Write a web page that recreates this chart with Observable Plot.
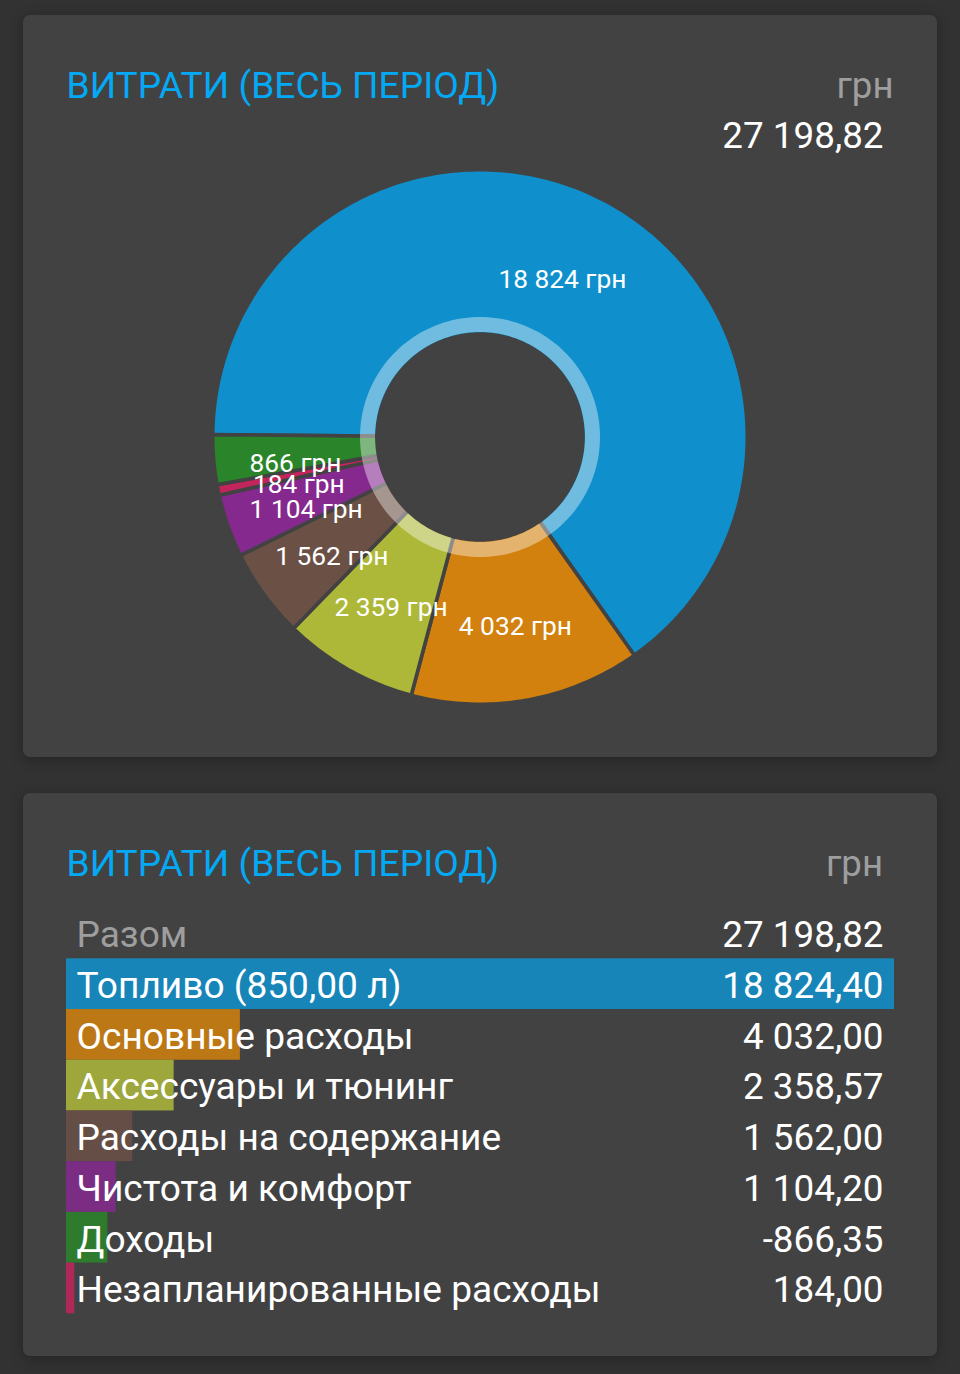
<!DOCTYPE html>
<html lang="uk">
<head>
<meta charset="utf-8">
<script src="https://cdn.jsdelivr.net/npm/d3@7"></script>
<script src="https://cdn.jsdelivr.net/npm/@observablehq/plot@0.6"></script>
<style>
  html, body { margin: 0; padding: 0; background: #323232; width: 960px; height: 1374px; overflow: hidden; font-family: Roboto, sans-serif; }
  .card { position: absolute; left: 23px; width: 914px; background: #424242; border-radius: 7px; box-shadow: 0 3px 14px rgba(0,0,0,.28); }
  .card svg { position: absolute; left: 0; top: 0; }
  .t { position: absolute; white-space: nowrap; line-height: 1; z-index: 2; }
  .title { left: 43.5px; color: #03a9f4; font-size: 37.15px; }
  .unit { color: #9e9e9e; font-size: 36.6px; }
  .total { color: #fff; font-size: 36.8px; }
</style>
</head>
<body>
<div class="card" id="c1" style="top:15px;height:742px">
  <div class="t title" style="top:52px">ВИТРАТИ (ВЕСЬ ПЕРІОД)</div>
  <div class="t unit" style="right:43.5px;top:53px">грн</div>
  <div class="t total" id="sum" style="right:53.5px;top:103px"></div>
</div>
<div class="card" id="c2" style="top:793px;height:563px">
  <div class="t title" style="top:52px">ВИТРАТИ (ВЕСЬ ПЕРІОД)</div>
  <div class="t unit" style="right:54px;top:53px">грн</div>
</div>
<script>
// ---- data ----
const categories = ["Топливо (850,00 л)", "Основные расходы", "Аксессуары и тюнинг", "Расходы на содержание", "Чистота и комфорт", "Доходы", "Незапланированные расходы"];
const amounts = [18824.40, 4032.00, 2358.57, 1562.00, 1104.20, -866.35, 184.00];
const colors = ["#0f90cc", "#d2810e", "#adb839", "#6b5046", "#85298f", "#2a852a", "#c2255c"];
const sliceOrder = [0, 1, 2, 3, 4, 6, 5];
const totalLabel = "Разом";
const total = 27198.82;

// ---- formatting ----
const locale = d3.formatLocale({decimal: ",", thousands: " ", grouping: [3], currency: ["", ""], minus: "-"});
const money = locale.format(",.2f");
const whole = locale.format(",.0f");
document.getElementById("sum").textContent = money(total);

// ---- donut ----
const FONT = "Roboto, sans-serif";
const R = 265.5;
const startAngle = 270.5;
const sum = d3.sum(amounts, Math.abs);
const rad = d => d * Math.PI / 180;
const px = (r, a) => r / R * Math.sin(rad(a));
const py = (r, a) => r / R * Math.cos(rad(a));

let cursor = startAngle;
const sliceRows = [], labelRows = [];
for (const i of sliceOrder) {
  const span = Math.abs(amounts[i]) / sum * 360;
  const n = Math.max(2, Math.ceil(span));
  for (let k = 0; k <= n; ++k) {
    const a = cursor + span * k / n;
    sliceRows.push({cat: categories[i], x1: px(103, a), y1: py(103, a), x2: px(R + 1.8, a), y2: py(R + 1.8, a)});
  }
  const mid = cursor + span / 2 - 1;
  labelRows.push({x: px(185, mid), y: py(185, mid), text: whole(Math.abs(amounts[i])) + " грн"});
  cursor += span;
}
const ringRows = d3.range(0, 361, 2).map(a => ({x1: px(105, a), y1: py(105, a), x2: px(120, a), y2: py(120, a)}));

const donut = Plot.plot({
  width: 914, height: 742,
  margin: 0,
  style: {background: "transparent", fontFamily: FONT},
  x: {domain: [-457 / R, 457 / R], range: [0, 914], axis: null},
  y: {domain: [-320 / R, 422 / R], range: [742, 0], axis: null},
  color: {domain: categories, range: colors},
  marks: [
    Plot.area(sliceRows, {x1: "x1", y1: "y1", x2: "x2", y2: "y2", fill: "cat", stroke: "#424242", strokeWidth: 3.6, curve: "linear"}),
    Plot.area(ringRows, {x1: "x1", y1: "y1", x2: "x2", y2: "y2", fill: "#fff", fillOpacity: 0.4, curve: "linear"}),
    Plot.text(labelRows, {x: "x", y: "y", text: "text", dx: -1, dy: 7.5, fill: "#fff", fontSize: 26.3, fontFamily: FONT})
  ]
});
document.getElementById("c1").appendChild(donut);

// ---- table ----
const rows = categories.map((name, i) => ({
  name, amount: amounts[i], color: colors[i],
  share: Math.round(Math.abs(amounts[i]) / d3.max(amounts) * 100)
}));
const head = [{name: totalLabel, amount: total}];
const table = Plot.plot({
  width: 914, height: 563,
  margin: 0,
  style: {background: "transparent", fontFamily: FONT},
  x: {domain: [0, 100], range: [43, 871], axis: null},
  y: {domain: [totalLabel, ...categories], range: [114.6, 520.3], padding: 0, round: false, axis: null},
  color: {domain: categories, range: colors},
  marks: [
    Plot.barX(rows, {x: "share", y: "name", fill: "name", fillOpacity: 0.85}),
    Plot.text(head, {y: "name", text: "name", frameAnchor: "left", dx: 53, dy: 2, fill: "#9e9e9e", fontSize: 37.1, fontFamily: FONT}),
    Plot.text(head, {y: "name", text: d => money(d.amount), frameAnchor: "right", dx: -54, dy: 2, fill: "#fff", fontSize: 36.8, fontFamily: FONT}),
    Plot.text(rows, {y: "name", text: "name", frameAnchor: "left", dx: 53, dy: 2, fill: "#fff", fontSize: 37.1, fontFamily: FONT}),
    Plot.text(rows, {y: "name", text: d => money(d.amount), frameAnchor: "right", dx: -54, dy: 2, fill: "#fff", fontSize: 36.8, fontFamily: FONT})
  ]
});
document.getElementById("c2").appendChild(table);
</script>
</body>
</html>
